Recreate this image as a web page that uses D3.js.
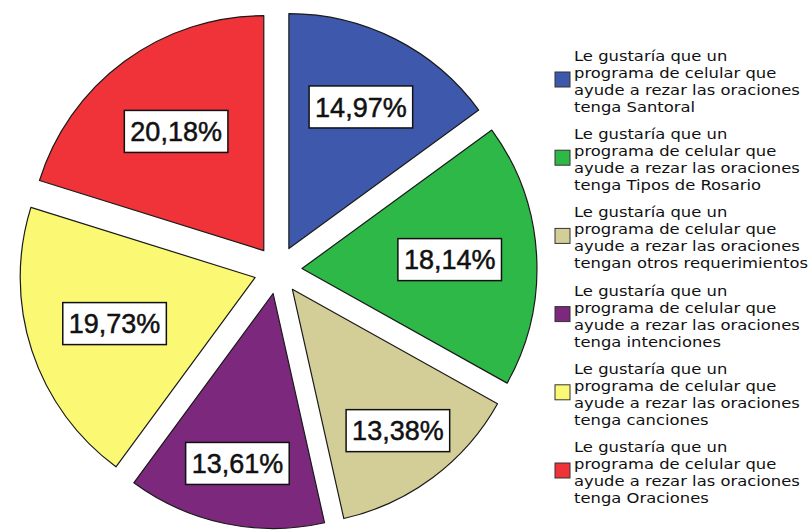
<!DOCTYPE html>
<html>
<head>
<meta charset="utf-8">
<script src="https://cdn.jsdelivr.net/npm/d3@7/dist/d3.min.js"></script>
<style>
  body { margin: 0; background: #fff; }
</style>
</head>
<body>
<div id="chart"></div>
<script>
// Data (clockwise from 12 o'clock)
var categories = [
  "Le gustaría que un\nprograma de celular que\nayude a rezar las oraciones\ntenga Santoral",
  "Le gustaría que un\nprograma de celular que\nayude a rezar las oraciones\ntenga Tipos de Rosario",
  "Le gustaría que un\nprograma de celular que\nayude a rezar las oraciones\ntengan otros requerimientos",
  "Le gustaría que un\nprograma de celular que\nayude a rezar las oraciones\ntenga intenciones",
  "Le gustaría que un\nprograma de celular que\nayude a rezar las oraciones\ntenga canciones",
  "Le gustaría que un\nprograma de celular que\nayude a rezar las oraciones\ntenga Oraciones"
];
var percents = [14.97, 18.14, 13.38, 13.61, 19.73, 20.18];
var colors = ["#3e58ac", "#2eb848", "#d3ce97", "#7c287d", "#fbf873", "#ef3338"];

var svgWidth = 811;
var svgHeight = 532;

var cx = 278, cy = 270;
var radius = 235;
var explode = 24;

var svg = d3.select("#chart")
  .append("svg")
  .attr("width", svgWidth)
  .attr("height", svgHeight);

var pie = d3.pie().sort(null).value(d => d);
var arcs = pie(percents);

var arc = d3.arc().innerRadius(0).outerRadius(radius);

function mid(a) { return (a.startAngle + a.endAngle) / 2; }

var pieGroup = svg.append("g")
  .attr("transform", `translate(${cx}, ${cy})`);

// slices, each pushed out along its bisector
var sliceGroup = pieGroup.selectAll(".slice")
  .data(arcs)
  .enter()
  .append("g")
  .attr("class", "slice")
  .attr("transform", d => `translate(${explode * Math.sin(mid(d))}, ${-explode * Math.cos(mid(d))})`);

sliceGroup.append("path")
  .attr("d", arc)
  .attr("fill", (d, i) => colors[i])
  .attr("stroke", "#1a1a1a")
  .attr("stroke-width", 1.2)
  .attr("stroke-linejoin", "round");

// value labels in white boxes, pushed further out on narrow slices
var labelGroup = sliceGroup.append("g")
  .attr("transform", function(d) {
    var half = (d.endAngle - d.startAngle) / 2;
    var t = Math.max(148, 72 / Math.sin(half));
    return `translate(${t * Math.sin(mid(d))}, ${-t * Math.cos(mid(d))})`;
  });

labelGroup.append("rect")
  .attr("fill", "#fff")
  .attr("stroke", "#111")
  .attr("stroke-width", 1.5);

var labelText = labelGroup.append("text")
  .attr("text-anchor", "middle")
  .attr("dy", "0.36em")
  .attr("font-family", "Liberation Sans, Arial, sans-serif")
  .attr("font-size", 27)
  .attr("fill", "#111")
  .attr("stroke", "#111")
  .attr("stroke-width", 0.5)
  .text(d => d.data.toFixed(2).replace(".", ",") + "%");

labelText.each(function() {
  var w = this.getComputedTextLength();
  d3.select(this.parentNode).select("rect")
    .attr("x", -w / 2 - 6)
    .attr("y", -21)
    .attr("width", w + 12)
    .attr("height", 42);
});

// legend
var legend = svg.append("g")
  .attr("transform", "translate(555, 61)");

var entry = legend.selectAll(".entry")
  .data(categories)
  .enter()
  .append("g")
  .attr("class", "entry")
  .attr("transform", (d, i) => `translate(0, ${i * 78.2})`);

entry.append("rect")
  .attr("x", 0)
  .attr("y", 11)
  .attr("width", 15)
  .attr("height", 15)
  .attr("fill", (d, i) => colors[i])
  .attr("stroke", "#333")
  .attr("stroke-width", 1);

entry.append("text")
  .attr("transform", "translate(19, 0) scale(1.13, 1)")
  .attr("font-family", "DejaVu Sans, sans-serif")
  .attr("font-size", 14.5)
  .attr("fill", "#111")
  .selectAll("tspan")
  .data(d => d.split("\n"))
  .enter()
  .append("tspan")
  .attr("x", 0)
  .attr("y", (d, i) => i * 17)
  .text(d => d);
</script>
</body>
</html>
